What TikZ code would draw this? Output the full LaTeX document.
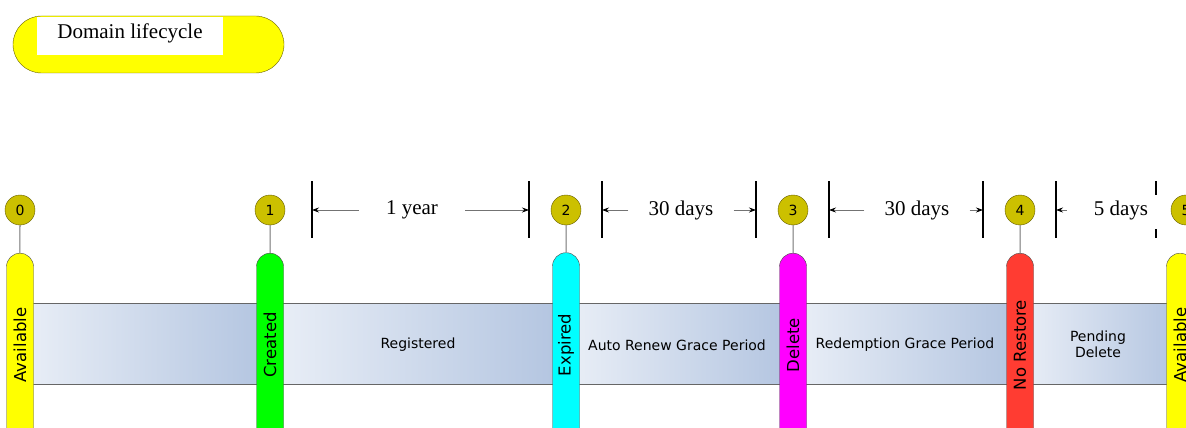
\documentclass[tikz,border=0pt]{standalone}
\usepackage{fontspec}
\setmainfont{Liberation Serif}
\setsansfont{DejaVu Sans}
\usetikzlibrary{arrows.meta,shapes.misc}

\definecolor{olivedot}{RGB}{204,192,0}
\definecolor{oliveline}{RGB}{100,92,0}
\definecolor{barlight}{RGB}{234,239,247}
\definecolor{bardark}{RGB}{178,196,224}
\definecolor{pillyellow}{RGB}{255,255,0}
\definecolor{pillgreen}{RGB}{0,255,0}
\definecolor{pillcyan}{RGB}{0,255,255}
\definecolor{pillmagenta}{RGB}{255,0,255}
\definecolor{pillred}{RGB}{255,60,50}

\begin{document}
\begin{tikzpicture}[x=1pt,y=-1pt,
    dot/.style={circle,draw=oliveline,fill=olivedot,minimum size=30pt,inner sep=0pt,
      font=\sffamily\fontsize{14}{14}\selectfont},
    pill/.style={rounded rectangle,rounded rectangle west arc=none,rotate=90,
      draw=black!70,minimum width=182pt,minimum height=27pt,inner sep=0pt,
      font=\sffamily\fontsize{16.5}{16.5}\selectfont},
    stem/.style={draw=black!55,line width=1pt},
    bartext/.style={font=\sffamily\fontsize{14}{16}\selectfont,align=center},
    tick/.style={line width=1.4pt},
    dim/.style={draw=black!55,line width=0.8pt,-{Stealth[black,length=7pt,width=5pt]}},
    dimtext/.style={font=\fontsize{21}{21}\selectfont}]

  \useasboundingbox (0,0) rectangle (1186,428);
  \clip (0,0) rectangle (1186,428);

  % title
  \node[draw=oliveline,fill=pillyellow,rounded corners=28.5pt,minimum width=271pt,
    minimum height=57pt,inner sep=0pt] (title) at (148.5,44.5) {};
  \fill[white] (37,17) rectangle (223,55);
  \node[font=\fontsize{21}{21}\selectfont] (titletext) at (130,33) {Domain lifecycle};

  % bar
  \foreach \a/\b in {20/270,270/566,566/793,793/1020,1020/1180}
    \shade[left color=barlight,right color=bardark] (\a,303) rectangle (\b,384);
  \draw[black!60] (20,303) -- (1180,303) (20,384) -- (1180,384);

  \node[bartext] (reg) at (418,345) {Registered};
  \node[bartext] (arg) at (677,345) {Auto Renew Grace Period};
  \node[bartext] (rgp) at (905,345) {Redemption Grace Period};
  \node[bartext] (pnd) at (1098,344) {Pending\\Delete};

  % states
  \node[pill,fill=pillyellow] (p0) at (20,345) {Available};
  \node[pill,fill=pillgreen] (p1) at (270,345) {Created};
  \node[pill,fill=pillcyan] (p2) at (566,345) {Expired};
  \node[pill,fill=pillmagenta] (p3) at (793,345) {Delete};
  \node[pill,fill=pillred] (p4) at (1020,345) {No Restore};
  \node[pill,fill=pillyellow] (p5) at (1180,345) {Available};

  \node[dot] (c0) at (20,210) {0};
  \node[dot] (c1) at (270,210) {1};
  \node[dot] (c2) at (566,210) {2};
  \node[dot] (c3) at (793,210) {3};
  \node[dot] (c4) at (1020,210) {4};
  \node[dot] (c5) at (1186,210) {5};

  \foreach \i in {0,...,4}
    \draw[stem] (c\i) -- (p\i);
  \draw[stem] (c5.south) -- (c5.south |- p5.east);

  % durations
  \foreach \x [count=\i] in {312,529,602,756,829,983,1056} {
    \draw[tick] (\x,181) -- (\x,238);
    \coordinate (t\i) at (\x,210);
  }
  \draw[tick] (1156,181) -- (1156,195) (1156,229) -- (1156,238);

  \node[dimtext,inner xsep=27pt] (yr) at (412,210) {1 year};
  \node[dimtext,inner xsep=20pt] (ar) at (681,210) {30 days};
  \node[dimtext,inner xsep=20pt] (rg) at (917,210) {30 days};
  \node[dimtext,inner xsep=27pt] (pd) at (1121,210) {5 days};

  \draw[dim] (yr.west) -- (t1);
  \draw[dim] (yr.east) -- (t2);
  \draw[dim] (ar.west) -- (t3);
  \draw[dim] (ar.east) -- (t4);
  \draw[dim] (rg.west) -- (t5);
  \draw[dim] (rg.east) -- (t6);
  \draw[dim] (pd.west) -- (t7);
\end{tikzpicture}
\end{document}
